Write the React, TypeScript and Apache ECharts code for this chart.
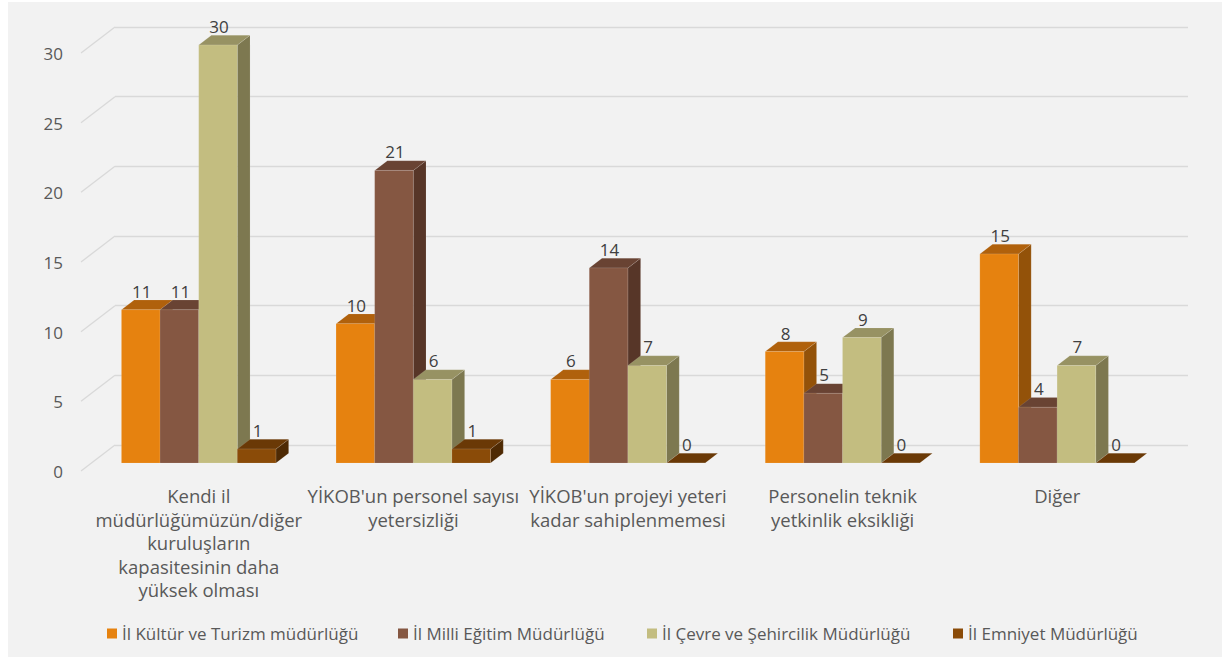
import React, { useEffect, useRef } from "react";
import * as echarts from "echarts";

const categories = [
  "Kendi il\nmüdürlüğümüzün/diğer\nkuruluşların\nkapasitesinin daha\nyüksek olması",
  "YİKOB'un personel sayısı\nyetersizliği",
  "YİKOB'un projeyi yeteri\nkadar sahiplenmemesi",
  "Personelin teknik\nyetkinlik eksikliği",
  "Diğer",
];
const seriesNames = [
  "İl Kültür ve Turizm müdürlüğü",
  "İl Milli Eğitim Müdürlüğü",
  "İl Çevre ve Şehircilik Müdürlüğü",
  "İl Emniyet Müdürlüğü",
];
const kulturTurizm = [11, 10, 6, 8, 15];
const milliEgitim = [11, 21, 14, 5, 4];
const cevreSehircilik = [30, 6, 7, 9, 7];
const emniyet = [1, 1, 0, 0, 0];
const yTicks = [0, 5, 10, 15, 20, 25, 30];

const seriesValues = [kulturTurizm, milliEgitim, cevreSehircilik, emniyet];

// styles
const FACE = [
  { front: "#E6820F", top: "#B0610C", side: "#935209" },
  { front: "#855742", top: "#694333", side: "#573628" },
  { front: "#C3BD80", top: "#979263", side: "#7D7850" },
  { front: "#8A4B08", top: "#6A3906", side: "#4E2A04" },
];
const FONT = "'Open Sans', 'Noto Sans', sans-serif";
const FRONT_DX = -23.6;
const FRONT_DY = 18;
const DEPTH_DX = 12.7;
const DEPTH_DY = -9.7;
const BAR_FRAC = 0.18;
const LEGEND_LEFT = [94, 385, 634, 940];

export default function App() {
  const ref = useRef<HTMLDivElement>(null);
  useEffect(() => {
    if (!ref.current) return;
    const chart = echarts.init(ref.current, undefined, { renderer: "svg" });

    const barSeries = seriesValues.map((vals, k) => ({
      type: "custom",
      name: seriesNames[k],
      itemStyle: { color: FACE[k].front },
      data: vals.map((v, i) => [i, v]),
      encode: { x: 0, y: 1 },
      renderItem: (params: any, api: any) => {
        const ci = api.value(0);
        const v = api.value(1);
        const base = api.coord([ci, 0]);
        const top = api.coord([ci, v]);
        const band = api.size([1, 0])[0];
        const bw = band * BAR_FRAC;
        const x0 = base[0] + FRONT_DX - 2 * bw + k * bw;
        const x1 = x0 + bw;
        const yb = base[1] + FRONT_DY;
        const yt = top[1] + FRONT_DY;
        const edge = "rgba(255,255,255,0.18)";
        return {
          type: "group",
          children: [
            {
              type: "polygon",
              shape: {
                points: [
                  [x1, yt],
                  [x1 + DEPTH_DX, yt + DEPTH_DY],
                  [x1 + DEPTH_DX, yb + DEPTH_DY],
                  [x1, yb],
                ],
              },
              style: { fill: FACE[k].side, stroke: edge, lineWidth: 0.6 },
            },
            {
              type: "polygon",
              shape: {
                points: [
                  [x0, yt],
                  [x1, yt],
                  [x1 + DEPTH_DX, yt + DEPTH_DY],
                  [x0 + DEPTH_DX, yt + DEPTH_DY],
                ],
              },
              style: { fill: FACE[k].top, stroke: edge, lineWidth: 0.6 },
            },
            {
              type: "rect",
              shape: { x: x0, y: yt, width: bw, height: yb - yt },
              style: { fill: FACE[k].front, stroke: edge, lineWidth: 0.6 },
            },
            {
              type: "text",
              x: (x0 + x1) / 2 + 1,
              y: yt - 18.5,
              z2: 100,
              style: {
                text: String(v),
                fill: "#404040",
                fontSize: 17,
                fontFamily: FONT,
                align: "center",
                verticalAlign: "middle",
              },
            },
          ],
        };
      },
    }));

    const tickSeries = {
      type: "custom",
      name: "ticks",
      silent: true,
      data: yTicks.map((t) => [0, t]),
      encode: { x: 0, y: 1 },
      renderItem: (params: any, api: any) => {
        const p = api.coord([0, api.value(1)]);
        const gx = params.coordSys.x;
        return {
          type: "line",
          shape: { x1: gx, y1: p[1], x2: gx - 34, y2: p[1] + 26 },
          style: { stroke: "#d9d9d9", lineWidth: 1.3 },
        };
      },
    };

    chart.setOption({
      animation: false,
      backgroundColor: "#f2f2f2",
      grid: { left: 107, right: 34, top: 25, bottom: 212 },
      xAxis: {
        type: "category",
        data: categories,
        boundaryGap: true,
        axisLine: { show: false },
        axisTick: { show: false },
        splitLine: { show: false },
        axisLabel: {
          interval: 0,
          margin: 39,
          color: "#595959",
          fontSize: 18.5,
          fontFamily: FONT,
          lineHeight: 23.5,
          align: "center",
          padding: [0, 47, 0, 0],
        },
      },
      yAxis: {
        type: "value",
        min: 0,
        max: 30,
        interval: 5,
        axisLine: { show: false },
        axisTick: { show: false },
        splitLine: { show: true, lineStyle: { color: "#d9d9d9", width: 1.3 } },
        axisLabel: {
          margin: 52,
          color: "#595959",
          fontSize: 17,
          fontFamily: FONT,
          verticalAlign: "top",
          lineHeight: 53,
        },
      },
      legend: seriesNames.map((n, i) => ({
        data: [n],
        left: LEGEND_LEFT[i],
        top: 618,
        icon: "rect",
        itemWidth: 10,
        itemHeight: 10,
        selectedMode: false,
        textStyle: { color: "#595959", fontSize: 17, fontFamily: FONT },
      })),
      series: [tickSeries, ...barSeries],
    });
    return () => chart.dispose();
  }, []);
  return (
    <div
      ref={ref}
      style={{ position: "absolute", left: 8, top: 2, width: 1214, height: 655 }}
    />
  );
}
